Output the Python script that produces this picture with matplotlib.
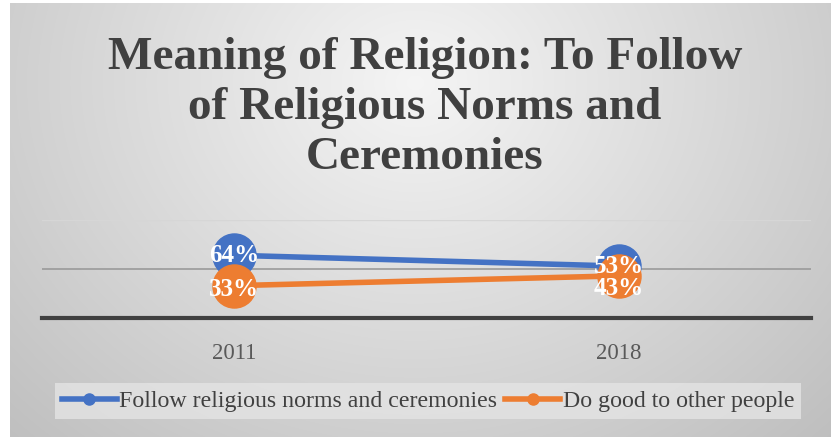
import numpy as np
import matplotlib
matplotlib.use("Agg")
import matplotlib.pyplot as plt
from matplotlib.lines import Line2D

categories = ["2011", "2018"]
series_names = ["Follow religious norms and ceremonies", "Do good to other people"]
follow_vals = [64, 53]
good_vals = [33, 43]
title = "Meaning of Religion: To Follow\nof Religious Norms and\nCeremonies"

W, H = 831, 437
fig = plt.figure(figsize=(W / 100, H / 100), dpi=100)
fig.patch.set_facecolor("white")

# radial gradient background
bg = fig.add_axes([10 / W, 0, 1 - 10 / W, 1 - 3 / H])
yy, xx = np.mgrid[0:H, 0:W - 10]
r = np.sqrt(((xx - 405) / 415.0) ** 2 + ((yy - 80) / 357.0) ** 2)
g = np.clip(0.96 - 0.15 * r, 0, 1)
bg.imshow(np.dstack([g, g, g]), aspect="auto", extent=[0, 1, 0, 1])
bg.axis("off")

ax = fig.add_axes([42 / W, 1 - 318 / H, (811 - 42) / W, (318 - 220) / H])
ax.patch.set_alpha(0)
x = np.arange(len(categories))
ax.set_xlim(-0.5, 1.5)
ax.set_ylim(0, 100)
ax.axhline(50, color="#9a9a9a", lw=1.2, zorder=1)
ax.axhline(100, color="#d6d6d6", lw=1.0, zorder=1)
for s in ["top", "right", "left"]:
    ax.spines[s].set_visible(False)
ax.spines["bottom"].set_color("#404040")
ax.spines["bottom"].set_linewidth(3)
ax.set_yticks([])
ax.set_xticks(x)
ax.set_xticklabels(categories, fontsize=16.5, color="#595959", family="Liberation Serif")
ax.tick_params(axis="x", length=0, pad=18)

blue, orange = "#4472C4", "#ED7D31"
ax.plot(x, follow_vals, color=blue, lw=4, marker="o", ms=31, clip_on=False, zorder=3,
        label=series_names[0])
ax.plot(x, good_vals, color=orange, lw=4, marker="o", ms=31, clip_on=False, zorder=4,
        label=series_names[1])

offs_follow = [(0, 0), (0, 0)]
offs_good = [(0, -3), (0, -9)]
for xi, v, o in zip(x, follow_vals, offs_follow):
    ax.annotate(f"{v}%", (xi, v), xytext=o, textcoords="offset points", ha="center", va="center",
                color="white", fontsize=18, fontweight="bold", family="Liberation Serif", zorder=6)
for xi, v, o in zip(x, good_vals, offs_good):
    ax.annotate(f"{v}%", (xi, v), xytext=o, textcoords="offset points", ha="center", va="center",
                color="white", fontsize=18, fontweight="bold", family="Liberation Serif", zorder=6)

fig.text(425 / W, 1 - 108 / H, title, ha="center", va="center", fontsize=34, fontweight="bold",
         color="#404040", family="Liberation Serif", linespacing=1.24)

handles = [Line2D([0], [0], color=blue, lw=4, marker="o", ms=8),
           Line2D([0], [0], color=orange, lw=4, marker="o", ms=8)]
leg = fig.legend(handles, series_names, loc="center", bbox_to_anchor=(428 / W, 1 - 401 / H),
                 ncol=2, frameon=True, fancybox=False, prop={"family": "Liberation Serif", "size": 17.2},
                 handlelength=2.3, handletextpad=0.1, columnspacing=0.35, borderpad=0.3)
leg.get_frame().set_facecolor("#e4e4e4")
leg.get_frame().set_edgecolor("none")
for t in leg.get_texts():
    t.set_color("#404040")

fig.savefig("out.png", dpi=100, facecolor=fig.get_facecolor())
